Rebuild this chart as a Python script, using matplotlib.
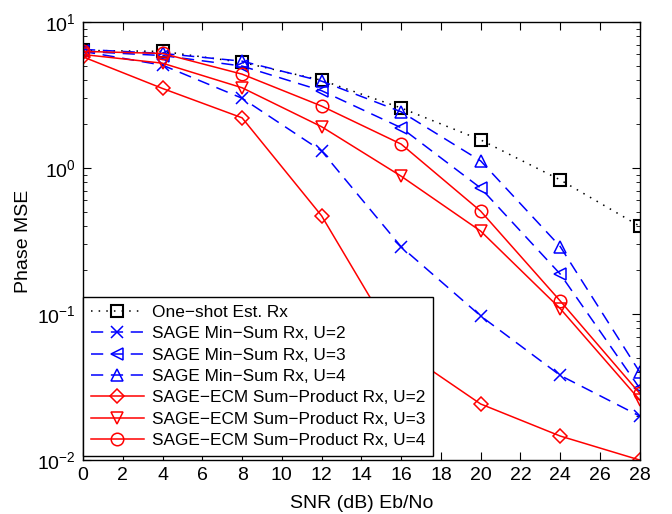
import numpy as np
import matplotlib.pyplot as plt
from matplotlib.ticker import LogLocator, NullFormatter

plt.rcParams['font.family'] = ['Liberation Sans', 'DejaVu Sans']
plt.rcParams['mathtext.fontset'] = 'custom'
plt.rcParams['mathtext.rm'] = 'Liberation Sans'

# SNR points
snr = [0, 4, 8, 12, 16, 20, 24, 28]

one_shot = [6.4, 6.3, 5.3, 4.0, 2.58, 1.56, 0.83, 0.40]
minsum_u2 = [6.3, 5.07, 3.01, 1.31, 0.289, 0.097, 0.038, 0.020]
minsum_u3 = [6.3, 5.9, 5.0, 3.39, 1.89, 0.73, 0.188, 0.031]
minsum_u4 = [6.5, 6.1, 5.4, 3.94, 2.43, 1.12, 0.29, 0.040]
ecm_u2 = [5.78, 3.51, 2.21, 0.471, 0.057, 0.0242, 0.0146, 0.0100]
ecm_u3 = [6.0, 5.23, 3.55, 1.92, 0.88, 0.37, 0.109, 0.0258]
ecm_u4 = [6.3, 6.1, 4.4, 2.66, 1.46, 0.507, 0.123, 0.0286]

labels = ["One\u2212shot Est. Rx",
          "SAGE Min\u2212Sum Rx, U=2",
          "SAGE Min\u2212Sum Rx, U=3",
          "SAGE Min\u2212Sum Rx, U=4",
          "SAGE\u2212ECM Sum\u2212Product Rx, U=2",
          "SAGE\u2212ECM Sum\u2212Product Rx, U=3",
          "SAGE\u2212ECM Sum\u2212Product Rx, U=4"]

fig = plt.figure(figsize=(6.72, 5.14), dpi=100)
ax = fig.add_axes([0.1235, 0.105, 0.8285, 0.852])

ms = 8
lw = 1.1
dash = (0, (8, 5))
ax.plot(snr, one_shot, color='black', linestyle=(0, (1, 4)), linewidth=lw,
        marker='s', markersize=ms, markerfacecolor='none', markeredgewidth=1.5, label=labels[0])
ax.plot(snr, minsum_u2, color='blue', linestyle=dash, linewidth=lw,
        marker='x', markersize=ms, markeredgewidth=1.1, label=labels[1])
ax.plot(snr, minsum_u3, color='blue', linestyle=dash, linewidth=lw,
        marker='<', markersize=ms + 1, markerfacecolor='none', markeredgewidth=1.1, label=labels[2])
ax.plot(snr, minsum_u4, color='blue', linestyle=dash, linewidth=lw,
        marker='^', markersize=ms + 1, markerfacecolor='none', markeredgewidth=1.1, label=labels[3])
ax.plot(snr, ecm_u2, color='red', linestyle='-', linewidth=lw,
        marker='D', markersize=ms - 1, markerfacecolor='none', markeredgewidth=1.1, label=labels[4])
ax.plot(snr, ecm_u3, color='red', linestyle='-', linewidth=lw,
        marker='v', markersize=ms + 1, markerfacecolor='none', markeredgewidth=1.1, label=labels[5])
ax.plot(snr, ecm_u4, color='red', linestyle='-', linewidth=lw,
        marker='o', markersize=ms + 1, markerfacecolor='none', markeredgewidth=1.1, label=labels[6])

ax.set_yscale('log')
ax.set_xlim(0, 28)
ax.set_ylim(1e-2, 1e1)
ax.set_xticks(np.arange(0, 29, 2))
ax.yaxis.set_major_locator(LogLocator(base=10, numticks=10))
ax.yaxis.set_minor_locator(LogLocator(base=10, subs=np.arange(2, 10), numticks=10))
ax.yaxis.set_minor_formatter(NullFormatter())
ax.tick_params(which='both', direction='in', top=True, right=True, labelsize=14)
ax.tick_params(which='major', length=6, pad=5)
ax.tick_params(which='minor', length=3)
for s in ax.spines.values():
    s.set_linewidth(1.0)

ax.set_xlabel("SNR (dB) Eb/No", fontsize=14, labelpad=8)
ax.set_ylabel("Phase MSE", fontsize=14, labelpad=4)

leg = ax.legend(loc='lower left', bbox_to_anchor=(0, 0.009), fontsize=12.4, frameon=True,
                fancybox=False, edgecolor='black', framealpha=1, borderaxespad=0,
                handlelength=3.1, labelspacing=0.37, borderpad=0.45, handletextpad=0.45)
leg.get_frame().set_linewidth(1.0)

plt.savefig("out.png", dpi=100)
